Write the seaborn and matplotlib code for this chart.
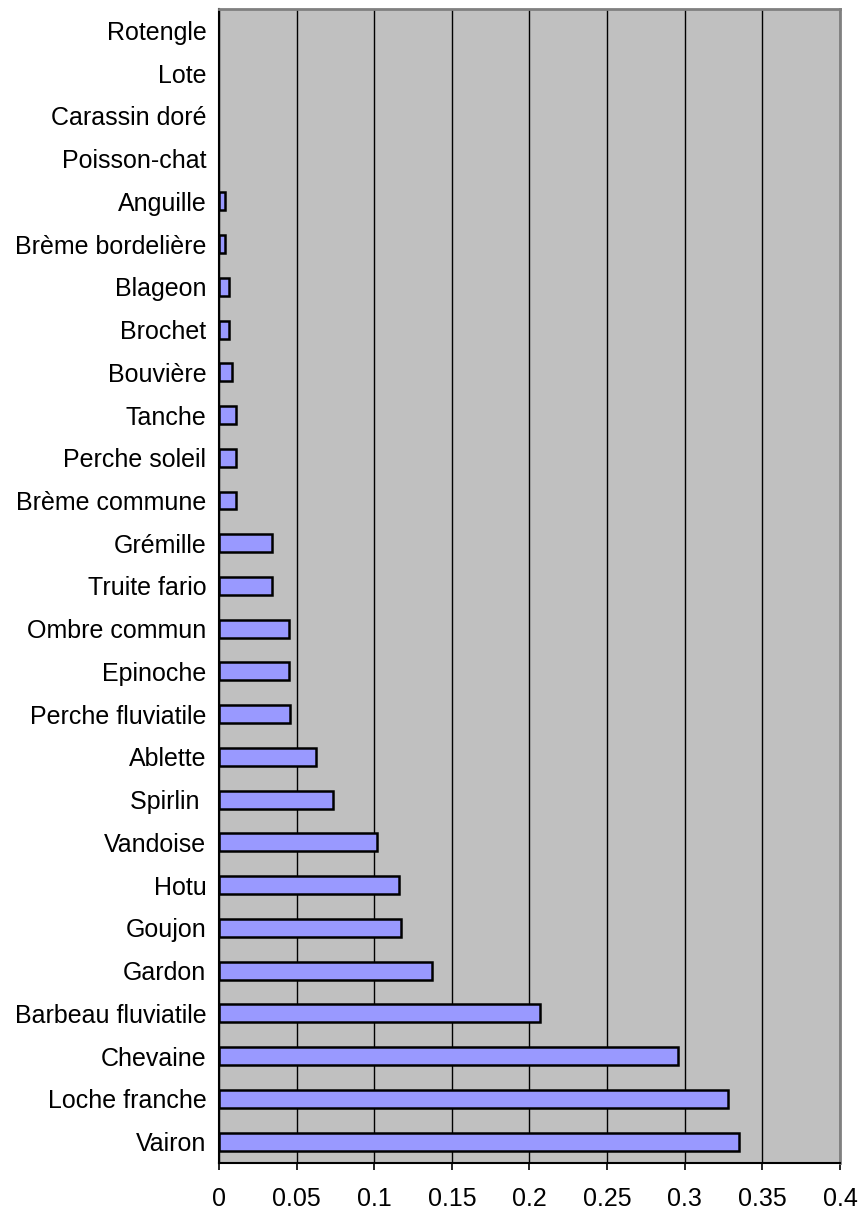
import numpy as np
import pandas as pd
import matplotlib
matplotlib.use("Agg")
import matplotlib.pyplot as plt
import seaborn as sns

species = [
    "Rotengle", "Lote", "Carassin doré", "Poisson-chat", "Anguille",
    "Brème bordelière", "Blageon", "Brochet", "Bouvière", "Tanche",
    "Perche soleil", "Brème commune", "Grémille", "Truite fario",
    "Ombre commun", "Epinoche", "Perche fluviatile", "Ablette", "Spirlin ",
    "Vandoise", "Hotu", "Goujon", "Gardon", "Barbeau fluviatile",
    "Chevaine", "Loche franche", "Vairon",
]
values = [
    0.0, 0.0, 0.0, 0.0, 0.004,
    0.004, 0.0062, 0.0062, 0.0086, 0.011,
    0.011, 0.011, 0.034, 0.034,
    0.045, 0.045, 0.046, 0.0623, 0.0735,
    0.1018, 0.116, 0.117, 0.1374, 0.207,
    0.2957, 0.328, 0.335,
]
xticks = [0, 0.05, 0.1, 0.15, 0.2, 0.25, 0.3, 0.35, 0.4]
xticklabels = ["0", "0.05", "0.1", "0.15", "0.2", "0.25", "0.3", "0.35", "0.4"]

df = pd.DataFrame({"Espece": species, "Valeur": values})

sns.set_style("white")
plt.rcParams["font.family"] = ["Liberation Sans", "DejaVu Sans"]
plt.rcParams["text.color"] = "black"
plt.rcParams["xtick.color"] = "black"
plt.rcParams["ytick.color"] = "black"

fig = plt.figure(figsize=(8.62, 12.16), dpi=100)
ax = fig.add_axes([0.254, 0.0436, 0.7205, 0.949])

sns.barplot(
    data=df, x="Valeur", y="Espece", orient="h",
    color="#9999FF", edgecolor="black", linewidth=1.8,
    width=0.42, saturation=1, ax=ax,
)

# no outline for empty bars
for patch in ax.patches:
    if patch.get_width() == 0:
        patch.set_linewidth(0)

ax.set_facecolor("#C0C0C0")
ax.set_xlim(0, 0.4)
ax.set_ylim(len(species) - 0.5, -0.5)
ax.set_xticks(xticks)
ax.set_xticklabels(xticklabels, fontsize=18)
ax.set_xlabel("")
ax.set_ylabel("")

# vertical grid lines
ax.grid(axis="x", color="black", linewidth=1)
ax.grid(axis="y", visible=False)
ax.set_axisbelow(True)

# category labels, tick marks at category boundaries
ax.tick_params(axis="y", which="major", length=0, pad=9, labelsize=18)
ax.set_yticks(np.arange(len(species) + 1) - 0.5, minor=True)
ax.tick_params(axis="y", which="minor", length=5, width=1.2, color="black", direction="out")
ax.tick_params(axis="x", which="major", length=5, width=1.2, color="black",
               direction="out", pad=12, bottom=True)

for side in ["left", "bottom"]:
    ax.spines[side].set_color("black")
    ax.spines[side].set_linewidth(1.5)
for side in ["top", "right"]:
    ax.spines[side].set_visible(True)
    ax.spines[side].set_color("#808080")
    ax.spines[side].set_linewidth(2)

fig.savefig("out.png", dpi=100, facecolor="white")
